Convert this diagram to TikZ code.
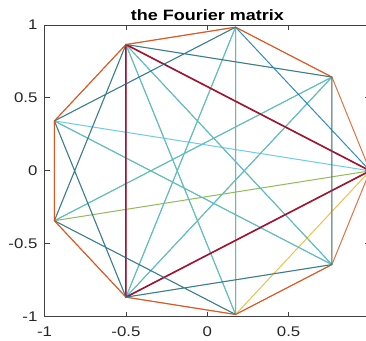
\documentclass[tikz,border=0pt]{standalone}
\usepackage{fontspec}
\setmainfont{Liberation Sans}
\usepackage{tikz}
\definecolor{mlblue}{rgb}{0,0.447,0.741}
\definecolor{mlorange}{rgb}{0.85,0.325,0.098}
\definecolor{mlyellow}{rgb}{0.929,0.694,0.125}
\definecolor{mlpurple}{rgb}{0.494,0.184,0.556}
\definecolor{mlgreen}{rgb}{0.466,0.674,0.188}
\definecolor{mlcyan}{rgb}{0.301,0.745,0.933}
\definecolor{mlred}{rgb}{0.635,0.078,0.184}
\tikzstyle{vertex} = [coordinate]
\tikzstyle{column} = [line width=1pt, draw opacity=0.82, line join=round]
\tikzstyle{frame} = [draw=black!75, line width=0.8pt]
\tikzstyle{ticklabel} = [inner sep=0pt, text=black!85, font=\fontsize{14}{14}\selectfont]
\tikzstyle{plottitle} = [inner sep=0pt, anchor=base, font=\bfseries\fontsize{15}{15}\selectfont]
\newcommand{\wide}[1]{\scalebox{1.2}[1]{#1}}

\begin{document}
\begin{tikzpicture}[x=162.7pt, y=145.85pt]
    \useasboundingbox (-1.274,-1.1644) rectangle (0.9754,1.1712);
    % Define the nodes
    \node [vertex, name=v0] at (0:1) {};
    \node [vertex] (v1) at (40:1) {};
    \node [vertex] (v2) at (80:1) {};
    \node [vertex] (v3) at (120:1) {};
    \node [vertex] (v4) at (160:1) {};
    \node [vertex] (v5) at (200:1) {};
    \node [vertex] (v6) at (240:1) {};
    \node [vertex] (v7) at (280:1) {};
    \node [vertex] (v8) at (320:1) {};
    % Axes box and ticks
    \draw [frame] (-1,-1) rectangle (1,1);
    \draw [frame] (-0.5,-1) -- ++(0,5pt) (0,-1) -- ++(0,5pt) (0.5,-1) -- ++(0,5pt)
        (-0.5,1) -- ++(0,-5pt) (0,1) -- ++(0,-5pt) (0.5,1) -- ++(0,-5pt)
        (-1,-0.5) -- ++(5pt,0) (-1,0) -- ++(5pt,0) (-1,0.5) -- ++(5pt,0)
        (1,-0.5) -- ++(-5pt,0) (1,0) -- ++(-5pt,0) (1,0.5) -- ++(-5pt,0);
    \node [ticklabel, anchor=north, yshift=-10pt] (xm1) at (-1,-1) {\wide{-1}};
    \node [ticklabel, anchor=north, yshift=-10pt] (xm05) at (-0.5,-1) {\wide{-0.5}};
    \node [ticklabel, anchor=north, yshift=-10pt] (x0) at (0,-1) {\wide{0}};
    \node [ticklabel, anchor=north, yshift=-10pt] (x05) at (0.5,-1) {\wide{0.5}};
    \node [ticklabel, anchor=east, xshift=-7pt] (ym1) at (-1,-1) {\wide{-1}};
    \node [ticklabel, anchor=east, xshift=-7pt] (ym05) at (-1,-0.5) {\wide{-0.5}};
    \node [ticklabel, anchor=east, xshift=-7pt] (y0) at (-1,0) {\wide{0}};
    \node [ticklabel, anchor=east, xshift=-7pt] (y05) at (-1,0.5) {\wide{0.5}};
    \node [ticklabel, anchor=east, xshift=-7pt] (y1) at (-1,1) {\wide{1}};
    \node [plottitle] (title) at (0,1.034) {\wide{the Fourier matrix}};
    % Connect the nodes, one column of the matrix per path
    \draw [column, mlorange] (v0) -- (v8) -- (v7) -- (v6) -- (v5) -- (v4) -- (v3) -- (v2) -- (v1);
    \draw [column, mlyellow] (v0) -- (v7) -- (v5) -- (v3) -- (v1) -- (v8) -- (v6) -- (v4) -- (v2);
    \draw [column, mlpurple] (v0) -- (v6) -- (v3) -- (v0) -- (v6) -- (v3) -- (v0) -- (v6) -- (v3);
    \draw [column, mlgreen] (v0) -- (v5) -- (v1) -- (v6) -- (v2) -- (v7) -- (v3) -- (v8) -- (v4);
    \draw [column, mlcyan] (v0) -- (v4) -- (v8) -- (v3) -- (v7) -- (v2) -- (v6) -- (v1) -- (v5);
    \draw [column, mlred, line width=1.6pt, draw opacity=1] (v0) -- (v3) -- (v6) -- (v0) -- (v3) -- (v6) -- (v0) -- (v3) -- (v6);
    \draw [column, mlblue] (v0) -- (v2) -- (v4) -- (v6) -- (v8) -- (v1) -- (v3) -- (v5) -- (v7);
    \draw [column, mlorange] (v0) -- (v1) -- (v2) -- (v3) -- (v4) -- (v5) -- (v6) -- (v7) -- (v8);
\end{tikzpicture}
\end{document}
